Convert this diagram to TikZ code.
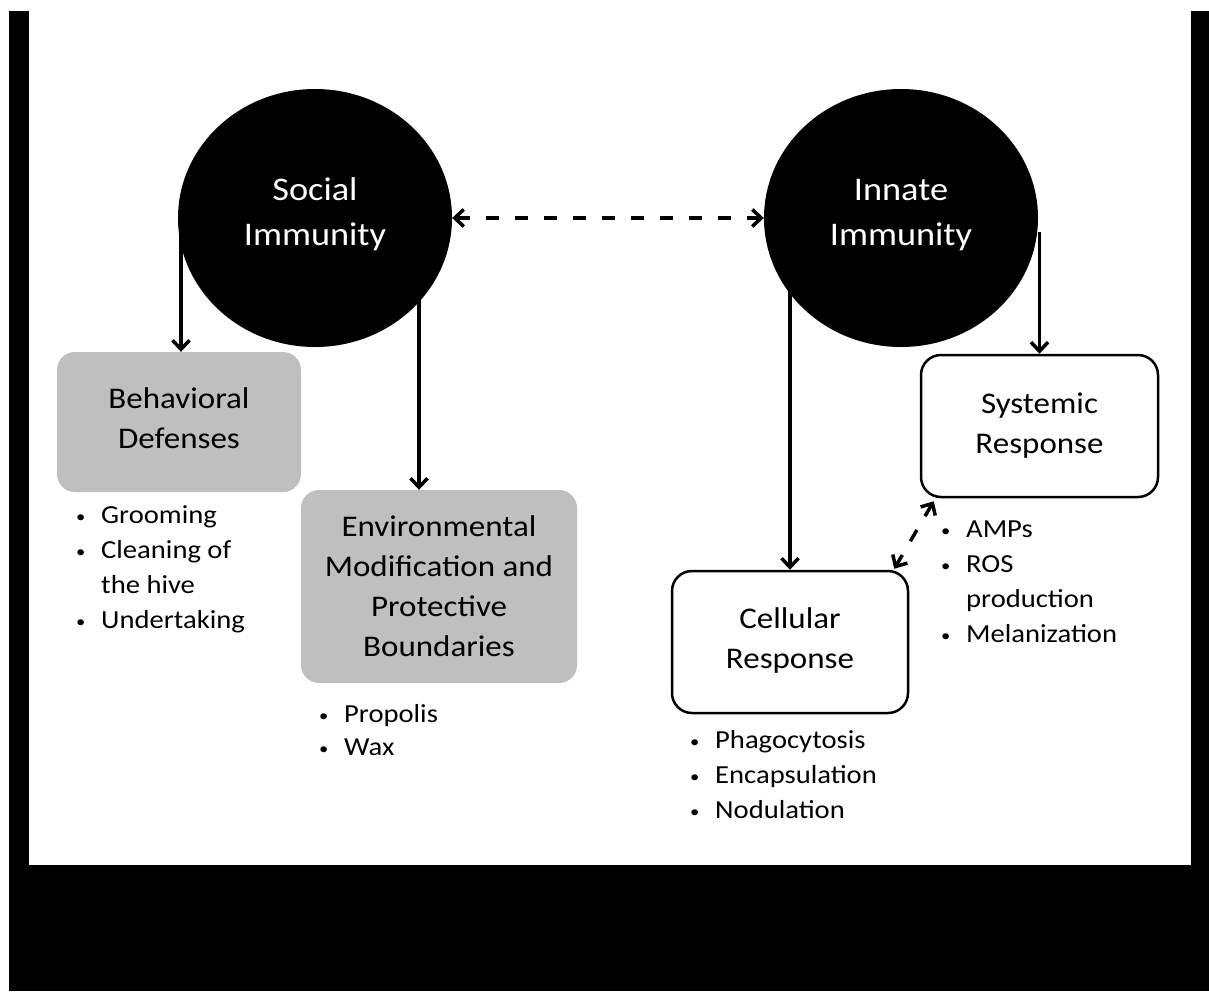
\documentclass[tikz,border=0pt]{standalone}
\usepackage{fontspec}
\setmainfont[FakeStretch=1.1]{Carlito}
\usetikzlibrary{arrows.meta,shapes.geometric}
\definecolor{boxgray}{RGB}{191,191,191}
\begin{document}
\begin{tikzpicture}[x=1pt,y=-1pt,
  circ/.style={ellipse, fill=black, minimum width=274pt, minimum height=258pt, inner sep=0pt, text=white, font=\fontsize{33}{45}\selectfont, align=center},
  graybox/.style={rounded corners=18pt, fill=boxgray, inner sep=0pt, font=\fontsize{30}{40}\selectfont, align=center},
  whitebox/.style={rounded corners=20pt, draw=black, line width=2.5pt, fill=white, inner sep=0pt, font=\fontsize{30}{40}\selectfont, align=center},
  blist/.style={anchor=base west, inner sep=0pt, font=\fontsize{26}{35}\selectfont},
  arr/.style={line width=3.5pt, -{Straight Barb[length=9pt,width=17pt]}},
  darr/.style={line width=3.5pt, dash pattern=on 13pt off 16pt, {Straight Barb[length=9pt,width=17pt]}-{Straight Barb[length=9pt,width=17pt]}},
]
\useasboundingbox (0,0) rectangle (1209,991);
% background and frame
\fill[white] (0,0) rectangle (1209,991);
\fill[black] (9,11) rectangle (29,991);
\fill[black] (1191,11) rectangle (1209,991);
\fill[black] (9,865) rectangle (1209,991);

\newcommand{\mydepth}[1]{\rule[-#1]{0pt}{0pt}}
% circles
\node[circ] (social) at (315,218) {Social\\Immunity\mydepth{12pt}};
\node[circ] (innate) at (901,218) {Innate\\Immunity\mydepth{12pt}};

% boxes
\node[graybox, minimum width=244pt, minimum height=140pt] (behav) at (179,422) {Behavioral\\Defenses\mydepth{8pt}};
\node[graybox, minimum width=276pt, minimum height=193pt] (env) at (439,586.5) {Environmental\\Modification and\\Protective\\Boundaries};
\node[whitebox, minimum width=237pt, minimum height=142pt] (sys) at (1039.5,426) {Systemic\\Response};
\node[whitebox, minimum width=236pt, minimum height=142pt] (cell) at (790,642) {Cellular\\Response\mydepth{8pt}};

% bullet lists
\newcommand{\bul}{\makebox[25pt][l]{\raisebox{1pt}{\scalebox{0.65}{\textbullet}}}}
\newcommand{\nob}{\makebox[25pt][l]{}}
\node[blist] (blist1) at (76,523) {\begin{tabular}[t]{@{}l@{}}\bul Grooming\\ \bul Cleaning of\\ \nob the hive\\ \bul Undertaking\end{tabular}};
\node[blist] (blist2) at (319,722) {\begin{tabular}[t]{@{}l@{}}\bul Propolis\\[-2pt] \bul Wax\end{tabular}};
\node[blist] (blist3) at (690,748) {\begin{tabular}[t]{@{}l@{}}\bul Phagocytosis\\ \bul Encapsulation\\ \bul Nodulation\end{tabular}};
\node[blist] (blist4) at (941,537) {\begin{tabular}[t]{@{}l@{}}\bul AMPs\\ \bul ROS\\ \nob production\\ \bul Melanization\end{tabular}};

% connectors
\draw[arr] (behav.north |- social.west) ++(2,8) -- ([xshift=2pt]behav.north);
\draw[arr] ([xshift=104pt]social.center) -- ([xshift=104pt]social.center |- env.north);
\draw[arr] (cell.north |- innate.center) -- (cell.north);
\draw[arr] (sys.north |- innate.center) ++(0,14) -- (sys.north);
\draw[darr] (social.east) -- (innate.west);
\draw[darr] ([xshift=14pt,yshift=-3pt]sys.south west) -- ([xshift=-15pt,yshift=1pt]cell.north east);
\end{tikzpicture}
\end{document}
